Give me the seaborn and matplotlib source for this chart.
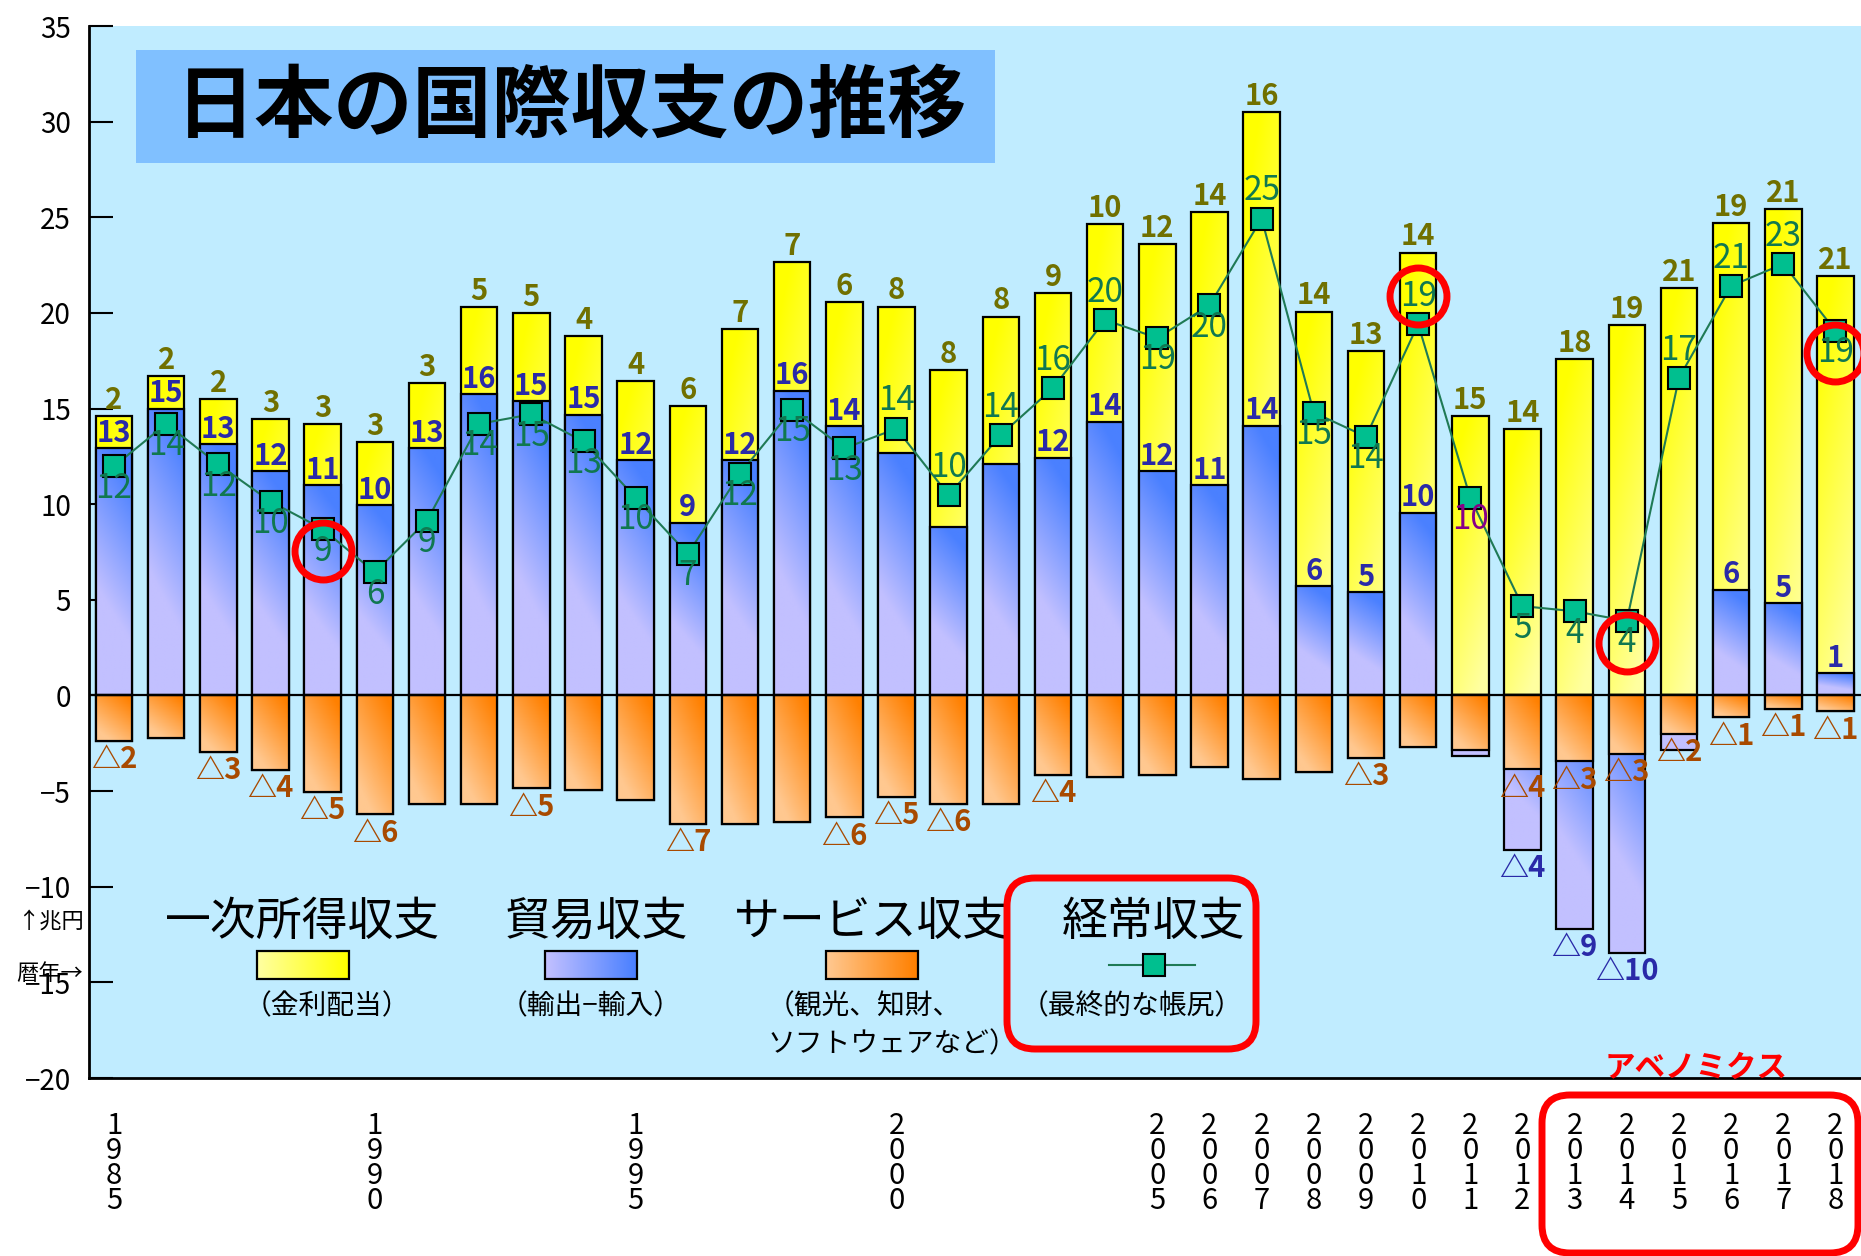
import numpy as np
import pandas as pd
import matplotlib.pyplot as plt
import seaborn as sns
from matplotlib.patches import Rectangle, FancyBboxPatch
from matplotlib.colors import LinearSegmentedColormap
from matplotlib.transforms import IdentityTransform

plt.rcParams['font.family'] = ['Noto Sans CJK JP', 'DejaVu Sans']

# -------------------------
# Data (兆円)
# -------------------------
years = list(range(1985, 2019))
trade = [12.94, 15.0, 13.14, 11.74, 11.0, 9.94, 12.94, 15.74, 15.38, 14.68,
         12.31, 9.04, 12.31, 15.93, 14.07, 12.66, 8.80, 12.10, 12.43, 14.32,
         11.73, 11.0, 14.1, 5.71, 5.39, 9.55, -0.32, -4.22, -8.76, -10.41,
         -0.80, 5.53, 4.81, 1.17]
primary = [1.65, 1.68, 2.36, 2.70, 3.20, 3.32, 3.40, 4.55, 4.60, 4.10,
           4.12, 6.10, 6.85, 6.73, 6.49, 7.67, 8.20, 7.71, 8.60, 10.33,
           11.87, 14.28, 16.4, 14.36, 12.60, 13.60, 14.6, 13.93, 17.59, 19.35,
           21.28, 19.16, 20.60, 20.77]
service = [-2.36, -2.22, -2.96, -3.90, -5.06, -6.22, -5.66, -5.66, -4.86, -4.96,
           -5.44, -6.73, -6.73, -6.61, -6.38, -5.30, -5.67, -5.67, -4.14, -4.28,
           -4.14, -3.74, -4.35, -4.00, -3.28, -2.70, -2.83, -3.87, -3.45, -3.07,
           -2.03, -1.15, -0.69, -0.83]
current = [11.98, 14.2, 12.08, 10.14, 8.7, 6.44, 9.14, 14.2, 14.7, 13.28,
           10.33, 7.4, 11.6, 14.95, 12.92, 13.95, 10.47, 13.62, 16.07, 19.63,
           18.69, 20.4, 24.93, 14.79, 13.53, 19.41, 10.33, 4.67, 4.4, 3.9,
           16.6, 21.41, 22.56, 19.06]

tick_years = [1985, 1990, 1995, 2000] + list(range(2005, 2019))
trade_label_off = [2000, 2001, 2002, 2011, 2015]
service_label_on = [1985, 1987, 1988, 1989, 1990, 1993, 1996, 1999, 2000, 2001,
                    2003, 2009, 2012, 2013, 2014, 2015, 2016, 2017, 2018]
ca_label_above = [2000, 2001, 2002, 2003, 2004, 2007, 2010, 2015, 2016, 2017]
circled_years = [1989, 2010, 2014, 2018]

df = pd.DataFrame({"year": [str(y) for y in years], "trade": trade,
                   "primary": primary, "service": service, "current": current})
n = len(df)
pos_trade = df["trade"].clip(lower=0)
neg_trade = df["trade"].clip(upper=0)

W, H = 1861, 1256
fig = plt.figure(figsize=(W / 100, H / 100), dpi=100)
ax = fig.add_axes([89 / W, 1 - 1078 / H, 1 - 89 / W, (1078 - 26) / H])
ax.set_facecolor('#C0ECFF')

YEL = ('#FFFF00', '#FFFFA0')
BLU = ('#4A80FF', '#C2C0FF')
ORA = ('#FF8000', '#FFC890')


def shade(patches, colors, fn, z):
    cmap = LinearSegmentedColormap.from_list('g', [colors[0], colors[1]])
    U, V = np.meshgrid(np.linspace(0, 1, 30), np.linspace(0, 1, 60))
    S = np.clip(fn(U, V), 0, 1)
    for p in patches:
        h = p.get_height()
        if abs(h) < 1e-9:
            continue
        x0, w, y0 = p.get_x(), p.get_width(), p.get_y()
        lo, hi = min(y0, y0 + h), max(y0, y0 + h)
        im = ax.imshow(S, cmap=cmap, vmin=0, vmax=1, origin='lower',
                       extent=[x0, x0 + w, lo, hi], aspect='auto',
                       interpolation='bilinear', zorder=z + 0.1)
        im.set_clip_path(p)
        p.set_facecolor('none')
        p.set_zorder(z + 0.2)


def bars(values, colors, z):
    before = len(ax.patches)
    sns.barplot(x=df["year"], y=values, color=colors[0], saturation=1, width=0.7,
                edgecolor='black', linewidth=1.6, errorbar=None, zorder=z, ax=ax)
    return ax.patches[before:]


yel_fn = lambda U, V: 0.9 * (1 - V) + 0.35 * U - 0.15
blu_fn = lambda U, V: 1.5 * (1 - V) + 0.35 * (1 - U) - 0.2
ora_fn = lambda U, V: 0.8 * (1 - V) + 0.5 * (1 - U) - 0.1

# -------------------------
# Stacked bars (drawn as overlays)
# -------------------------
shade(bars(pos_trade + df["primary"], YEL, 2), YEL, yel_fn, 2)
shade(bars(pos_trade, BLU, 3), BLU, blu_fn, 3)
shade(bars(df["service"] + neg_trade, BLU, 2), BLU, blu_fn, 2)
shade(bars(df["service"], ORA, 3), ORA, ora_fn, 3)

ax.axhline(0, color='black', lw=1.6, zorder=4)

# -------------------------
# Current account line
# -------------------------
sns.lineplot(x=np.arange(n), y=df["current"], color='#1F7A55', lw=1.5,
             marker='s', markersize=16, markerfacecolor='#00BF8F',
             markeredgecolor='black', markeredgewidth=1.5, zorder=5, ax=ax)


def fmt(v):
    k = int(np.floor(abs(v) + 0.5))
    return ('△' if v < 0 else '') + str(k)


lab = dict(ha='center', va='center', fontsize=21, fontweight='bold', zorder=6)
for i, y in enumerate(years):
    t, p, s, c = trade[i], primary[i], service[i], current[i]
    top = max(t, 0) + p
    ax.text(i, top + 0.85, fmt(p), color='#707000', **lab)
    if y not in trade_label_off:
        if t >= 0:
            ax.text(i, t + 0.8, fmt(t), color='#2A2AA8', **lab)
        else:
            ax.text(i, s + t - 0.95, fmt(t), color='#2A2AA8', **lab)
    if y in service_label_on:
        ax.text(i, s - 0.95, fmt(s), color='#A84A00', **lab)
    cy = c + 1.45 if y in ca_label_above else c - 1.15
    ccol = '#880088' if y == 2011 else '#107850'
    ax.text(i, cy, fmt(c), color=ccol, ha='center', va='center', fontsize=24, zorder=6)
    if y in circled_years:
        ax.plot([i], [cy], marker='o', ms=41, mfc='none', mec='#FF0000', mew=5,
                zorder=8, clip_on=False)

# -------------------------
# Legend (inside plot)
# -------------------------
headers = ['一次所得収支', '貿易収支', 'サービス収支', '経常収支']
header_x = [3.62, 9.24, 14.53, 19.93]
for hx, ht in zip(header_x, headers):
    ax.text(hx, -11.83, ht, ha='center', va='center', fontsize=33, zorder=6)

swatch_x = [3.62, 9.14, 14.53]
for sx, cols in zip(swatch_x, [YEL, BLU, ORA]):
    r = Rectangle((sx - 0.88, -14.83), 1.76, 1.46, facecolor=cols[0],
                  edgecolor='black', lw=1.6, zorder=6)
    ax.add_patch(r)
    shade([r], cols, lambda U, V: 1 - U, 6)
ax.plot([19.07, 20.72], [-14.1, -14.1], color='#1F7A55', lw=1.5, zorder=7)
ax.plot([19.93], [-14.1], marker='s', ms=16, mfc='#00BF8F', mec='black', mew=1.5, zorder=7)

cap = dict(va='center', fontsize=20, zorder=6)
ax.text(4.08, -16.25, '（金利配当）', ha='center', **cap)
ax.text(9.14, -16.25, '（輸出−輸入）', ha='center', **cap)
ax.text(12.52, -16.25, '（観光、知財、', ha='left', **cap)
ax.text(12.52, -18.24, 'ソフトウェアなど）', ha='left', **cap)
ax.text(19.51, -16.25, '（最終的な帳尻）', ha='center', **cap)

# -------------------------
# Axes styling
# -------------------------
ax.set_xlim(-0.48, 33.49)
ax.set_ylim(-20, 35)
ax.set_xlabel('')
ax.set_ylabel('')
ax.set_yticks(range(-20, 36, 5))
ax.tick_params(axis='y', direction='in', length=17, width=1.5, pad=13, labelsize=20)
ax.set_xticks(np.arange(n))
ax.set_xticklabels(['\n'.join(str(y)) if y in tick_years else '' for y in years])
ax.tick_params(axis='x', length=0, pad=24, labelsize=21)
for lbl in ax.get_xticklabels():
    lbl.set_linespacing(0.78)
for side in ['top', 'right']:
    ax.spines[side].set_visible(False)
ax.spines['left'].set_linewidth(2)
ax.spines['bottom'].set_linewidth(2)

# -------------------------
# Title and annotations
# -------------------------
fig.add_artist(Rectangle((136, H - 163), 859, 113, transform=IdentityTransform(),
                         facecolor='#80C0FF', edgecolor='none', zorder=3))
fig.text(571 / W, 1 - 107 / H, '日本の国際収支の推移', ha='center', va='center',
         fontsize=57, fontweight='bold', zorder=4)

fig.add_artist(FancyBboxPatch((1007, H - 1049), 249, 171, boxstyle='round,pad=0,rounding_size=28',
                              transform=IdentityTransform(), facecolor='none',
                              edgecolor='#FF0000', lw=5, zorder=5))
fig.add_artist(FancyBboxPatch((1542, H - 1253), 316, 158, boxstyle='round,pad=0,rounding_size=28',
                              transform=IdentityTransform(), facecolor='none',
                              edgecolor='#FF0000', lw=5, zorder=5))
fig.text(1696 / W, 1 - 1068 / H, 'アベノミクス', ha='center', va='center', color='#FF0000',
         fontsize=22, fontweight='bold', zorder=6)
fig.text(50 / W, 1 - 921 / H, '↑兆円', ha='center', va='center', fontsize=16)
fig.text(50 / W, 1 - 973 / H, '暦年→', ha='center', va='center', fontsize=16)

fig.savefig("out.png", dpi=100, facecolor='white')
